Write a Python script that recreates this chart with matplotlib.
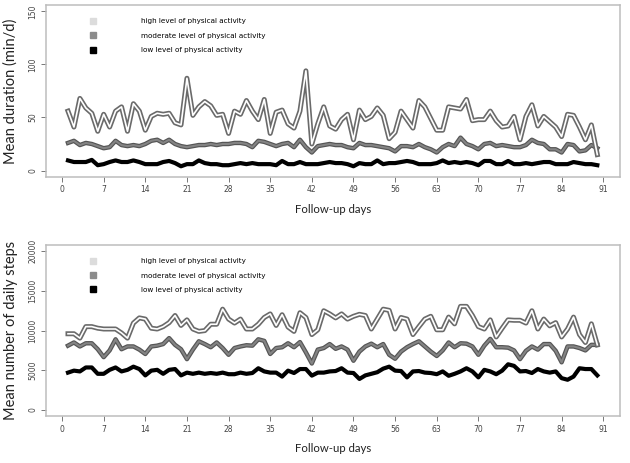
import numpy as np
import matplotlib
matplotlib.use("Agg")
import matplotlib.pyplot as plt
from matplotlib.lines import Line2D

# ================= DATA =================
days = np.arange(1, 91)

dur_high = [56, 41, 68, 59, 54, 37, 53, 41, 56, 60, 37, 63, 56, 38, 51, 54, 53, 54, 45, 43,
            87, 52, 60, 65, 61, 52, 53, 35, 56, 53, 66, 56, 48, 67, 35, 55, 57, 44, 40, 56,
            94, 25, 44, 60, 42, 39, 48, 53, 29, 57, 48, 51, 59, 52, 30, 36, 56, 48, 40, 66,
            60, 49, 38, 38, 60, 59, 58, 67, 47, 48, 48, 56, 47, 41, 42, 51, 29, 51, 62, 42,
            51, 46, 41, 32, 53, 52, 41, 29, 43, 15]
dur_mod = [26, 28, 24, 26, 25, 23, 21, 22, 28, 24, 23, 24, 23, 25, 28, 29, 26, 29, 25, 23,
           22, 23, 24, 24, 25, 24, 25, 25, 26, 26, 25, 22, 28, 27, 25, 23, 25, 26, 22, 29,
           22, 17, 23, 24, 25, 24, 24, 22, 21, 26, 24, 24, 23, 22, 21, 18, 23, 23, 22, 25,
           22, 20, 17, 22, 25, 23, 31, 25, 23, 20, 25, 26, 23, 24, 23, 22, 22, 24, 29, 26,
           25, 20, 20, 17, 25, 24, 18, 19, 24, 21]
dur_low = [9.5, 8, 8, 8, 10, 5, 6, 8, 9.5, 8, 8, 9.5, 8, 6, 6, 6, 8, 9, 7, 4,
           6, 6, 9.5, 7, 6, 6, 5, 5, 6, 7, 6, 7, 6, 6, 6, 5, 9, 6, 6, 8,
           6, 6, 6, 7, 8, 7, 7, 6, 4, 7, 6, 6, 9.5, 6, 7, 7, 8, 9, 8, 6,
           6, 6, 7, 9.5, 7, 8, 7, 8, 7, 5, 9, 9, 6, 6, 9, 6, 6, 7, 6, 7,
           8, 8, 6, 6, 6, 8, 7, 6, 6, 5]

steps_high = [9600, 9600, 9050, 10500, 10500, 10300, 10200, 10200, 10200, 9700,
              9050, 10950, 11600, 11450, 10300, 10200, 10500, 11000, 11900, 10650,
              11350, 10200, 9900, 10000, 10800, 10800, 12700, 11450, 10950, 11450,
              10200, 10200, 10800, 11650, 12100, 10650, 12000, 10450, 9900, 12250,
              11650, 9500, 10100, 12500, 12100, 11600, 12100, 11450, 11800, 12050,
              11900, 10200, 11450, 12700, 12550, 10200, 11650, 11450, 9500, 10500,
              11450, 11800, 10100, 10100, 11700, 10850, 13050, 13050, 11900, 10500,
              10200, 11350, 9200, 10300, 11350, 11300, 11300, 10950, 12500, 10200,
              11450, 10600, 11000, 9200, 10200, 11700, 9500, 8500, 10850, 8200]
steps_mod = [8100, 8500, 8000, 8400, 8400, 7650, 6650, 7500, 8900, 7650,
             8000, 8000, 7600, 7050, 8000, 8100, 8300, 9050, 8200, 7650,
             6400, 7600, 8650, 8300, 7900, 8500, 7800, 6950, 7800, 8000,
             8150, 8100, 8900, 8700, 7050, 7800, 7900, 8400, 7900, 8550,
             7250, 5850, 7600, 7800, 8300, 7700, 8000, 7600, 6200, 7350,
             8000, 8350, 7900, 8300, 6950, 6450, 7350, 7900, 8300, 8650,
             8000, 7350, 6800, 7500, 8500, 7900, 8400, 8350, 8000, 6950,
             8100, 8950, 7900, 7900, 7850, 7500, 6400, 7450, 8000, 7600,
             8300, 8300, 7450, 6000, 8000, 8000, 7800, 7500, 8200, 8200]
steps_low = [4700, 4950, 4850, 5350, 5350, 4550, 4550, 5050, 5350, 4850,
             5050, 5450, 5150, 4350, 4950, 5050, 4550, 5050, 5150, 4350,
             4700, 4550, 4700, 4550, 4650, 4550, 4700, 4500, 4500, 4700,
             4550, 4650, 5250, 4850, 4700, 4700, 4200, 4950, 4650, 5150,
             5150, 4320, 4700, 4700, 4850, 4900, 5250, 4700, 4650, 3900,
             4350, 4550, 4750, 5200, 5450, 4950, 4900, 4100, 4850, 4900,
             4700, 4650, 4500, 4850, 4300, 4550, 4850, 5250, 4850, 4100,
             5050, 4850, 4500, 4950, 5750, 5550, 4850, 4900, 4650, 5150,
             4850, 4700, 4850, 4000, 3800, 4200, 5250, 5150, 5150, 4350]

x_ticks = [0, 7, 14, 21, 28, 35, 42, 49, 56, 63, 70, 77, 84, 91]
labels = ["high level of physical activity",
          "moderate level of physical activity",
          "low level of physical activity"]
legend_colors = ["#dcdcdc", "#8c8c8c", "#000000"]

# ================= PLOT =================
fig = plt.figure(figsize=(6.3, 4.63), dpi=100)
ax1 = fig.add_axes([0.073, 0.618, 0.911, 0.371])
ax2 = fig.add_axes([0.073, 0.101, 0.911, 0.370])

frame_col = "#bdbdbd"


def draw(ax, high, mod, low, ylim, yticks, ylabel):
    # high: hollow double line
    ax.plot(days, high, color="#6a6a6a", lw=3.6, zorder=3)
    ax.plot(days, high, color="white", lw=1.2, zorder=4)
    # moderate: grey band
    ax.plot(days, mod, color="#555555", lw=3.2, zorder=2)
    ax.plot(days, mod, color="#848484", lw=1.5, zorder=2)
    # low: black
    ax.plot(days, low, color="black", lw=3.0, zorder=2)

    ax.set_xlim(-2.7, 93.8)
    ax.set_ylim(*ylim)
    ax.set_xticks(x_ticks)
    ax.set_yticks(yticks)
    ax.set_yticklabels([str(v) for v in yticks], rotation=90, va="center")
    ax.tick_params(labelsize=5.5, colors="#777777", length=3.5, width=0.7,
                   labelcolor="#444444", pad=2.5)
    for s in ax.spines.values():
        s.set_color(frame_col)
        s.set_linewidth(1.1)
    ax.set_ylabel(ylabel, fontsize=10.5, family="Lato", color="#222222")
    ax.yaxis.set_label_coords(-0.049, 0.5)
    ax.set_xlabel("Follow-up days", fontsize=8.2, family="Lato", color="#222222",
                  labelpad=7)

    handles = [Line2D([], [], marker="s", ls="none", color=c, markersize=4)
               for c in legend_colors]
    ax.legend(handles, labels, loc="upper left", bbox_to_anchor=(0.067, 0.94),
              frameon=False, fontsize=5.2, handletextpad=6.0, labelspacing=1.15,
              handlelength=1.5, borderaxespad=0)


draw(ax1, dur_high, dur_mod, dur_low, (-6, 156), [0, 50, 100, 150],
     "Mean duration (min/d)")
draw(ax2, steps_high, steps_mod, steps_low, (-800, 20800),
     [0, 5000, 10000, 15000, 20000], "Mean number of daily steps")

fig.savefig("out.png", dpi=100)
